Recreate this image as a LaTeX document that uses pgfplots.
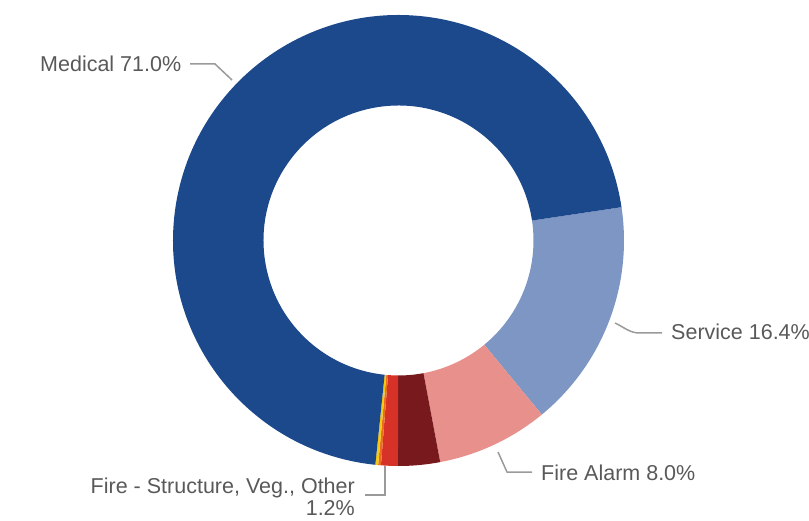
\documentclass[border=0pt]{standalone}
\usepackage{pgfplots}
\pgfplotsset{compat=1.18}
\usepackage{pgfplotstable}
\usepackage{fontspec}
\setmainfont{Liberation Sans}

\definecolor{slice0}{HTML}{7D96C3} % Service
\definecolor{slice1}{HTML}{E8918C} % Fire Alarm
\definecolor{slice2}{HTML}{78191E}
\definecolor{slice3}{HTML}{D73228} % Fire - Structure, Veg., Other
\definecolor{slice4}{HTML}{EB6E1E}
\definecolor{slice5}{HTML}{F5C814}
\definecolor{slice6}{HTML}{1C488C} % Medical
\definecolor{labtext}{HTML}{595959}
\definecolor{leader}{HTML}{9A9A9A}

% slices in clockwise order, starting at 8.5 deg
\pgfplotstableread{
name value
Service 16.4
FireAlarm 8.0
Other1 3.0
FireStructure 1.2
Other2 0.2
Other3 0.2
Medical 71.0
}\slices

\begin{document}
\begin{tikzpicture}
% cumulative angles
\def\cum{8.5}
\pgfplotsforeachungrouped \i in {0,...,6}{%
  \pgfplotstablegetelem{\i}{value}\of\slices
  \pgfmathsetmacro\nxt{\cum-3.6*\pgfplotsretval}%
  \expandafter\xdef\csname sa\i\endcsname{\cum}%
  \expandafter\xdef\csname ea\i\endcsname{\nxt}%
  \global\let\cum\nxt
}
\begin{axis}[
  width=809pt, height=520pt, scale only axis,
  xmin=0, xmax=809, ymin=0, ymax=520,
  hide axis, clip=false,
]
\coordinate (ll) at (axis cs:0,0);
\coordinate (ur) at (axis cs:809,520);
\pgfplotsinvokeforeach{0,...,6}{
  \fill[slice#1, shift={(axis cs:398.5,279.5)}]
    (\csname sa#1\endcsname:225.5pt)
    arc[start angle=\csname sa#1\endcsname, end angle=\csname ea#1\endcsname, radius=225.5pt]
    -- (\csname ea#1\endcsname:135pt)
    arc[start angle=\csname ea#1\endcsname, end angle=\csname sa#1\endcsname, radius=135pt]
    -- cycle;
}
% leader lines
\draw[leader, line width=1.5pt] (axis cs:190,456) -- (axis cs:215,456) -- (axis cs:232,440);
\draw[leader, line width=1.5pt] (axis cs:615,197) to[out=-25,in=180] (axis cs:640,187) -- (axis cs:662,187);
\draw[leader, line width=1.5pt] (axis cs:498,68) -- (axis cs:507,48) -- (axis cs:532,48);
\draw[leader, line width=1.5pt] (axis cs:385,54) -- (axis cs:385,25) -- (axis cs:365,25);
% labels
\tikzset{lab/.style={text=labtext, font=\fontsize{21.5}{26}\selectfont, inner sep=0pt}}
\node[lab, anchor=base west] at (axis cs:40,448) {Medical 71.0\%};
\node[lab, anchor=base west] at (axis cs:671,180) {Service 16.4\%};
\node[lab, anchor=base west] at (axis cs:541,40) {Fire Alarm 8.0\%};
\node[lab, anchor=base east] at (axis cs:355,27) {Fire - Structure, Veg., Other};
\node[lab, anchor=base east] at (axis cs:355,5) {1.2\%};
\end{axis}
\pgfresetboundingbox
\useasboundingbox (ll) rectangle (ur);
\end{tikzpicture}
\end{document}
